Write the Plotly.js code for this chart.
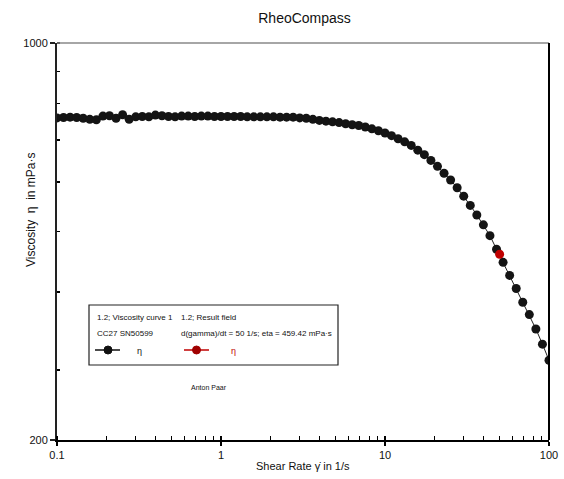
<!DOCTYPE html>
<html>
<head>
<meta charset="utf-8">
<script src="https://cdn.plot.ly/plotly-3.0.1.min.js"></script>
<style>html,body{margin:0;padding:0;background:#fff;}#chart{width:564px;height:479px;}</style>
</head>
<body>
<div id="chart"></div>
<script>
// Shear rate (1/s)
const shearRate = [0.1, 0.1096, 0.1202, 0.1318, 0.1445, 0.1585, 0.1738, 0.1905, 0.2089, 0.2291,
  0.2512, 0.2754, 0.302, 0.3311, 0.3631, 0.3981, 0.4365, 0.4786, 0.5248, 0.5754,
  0.631, 0.6918, 0.7586, 0.8318, 0.912, 1, 1.096, 1.202, 1.318, 1.445,
  1.585, 1.738, 1.905, 2.089, 2.291, 2.512, 2.754, 3.02, 3.311, 3.631,
  3.981, 4.365, 4.786, 5.248, 5.754, 6.31, 6.918, 7.586, 8.318, 9.12,
  10, 10.96, 12.02, 13.18, 14.45, 15.85, 17.38, 19.05, 20.89, 22.91,
  25.12, 27.54, 30.2, 33.11, 36.31, 39.81, 43.65, 47.86, 52.48, 57.54,
  63.1, 69.18, 75.86, 83.18, 91.2, 100];
// Viscosity (mPa·s)
const viscosity = [759, 760, 761, 760, 758, 755, 754, 764, 765, 758,
  768, 755, 762, 763, 762, 767, 765, 763, 762, 764,
  764, 763, 764, 764, 763, 763, 763, 763, 763, 762,
  762, 762, 762, 762, 761, 761, 761, 759, 758, 755,
  752, 750, 748, 746, 743, 740, 738, 734, 729, 724,
  718, 711, 703, 695, 686, 674, 663, 649, 635, 619,
  604, 587, 569, 550, 531, 512, 492, 468, 446, 425,
  405, 385, 368, 349, 330, 311];
// Result field point
const resultRate = [50];
const resultEta = [459.42];

const xTickVals = [0.1, 1, 10, 100];
const xTickText = ["0.1", "1", "10", "100"];
const xMinorVals = [0.1,0.2,0.3,0.4,0.5,0.6,0.7,0.8,0.9,1,2,3,4,5,6,7,8,9,10,20,30,40,50,60,70,80,90,100];
const yTickVals = [231.9, 1000];
const yTickText = ["200", "1000"];
const yMinorVals = [300, 400, 500, 600, 700, 800, 900, 1000];

const FONT = "'Liberation Sans', Arial, sans-serif";

const traces = [
  {x: shearRate, y: viscosity, type: 'scatter', mode: 'lines+markers',
   line: {color: '#222', width: 1}, marker: {color: '#141414', size: 9}, hoverinfo: 'skip', showlegend: false},
  {x: resultRate, y: resultEta, type: 'scatter', mode: 'markers',
   marker: {color: '#c00000', size: 9}, hoverinfo: 'skip', showlegend: false}
];

// plot area in px: left 57, right 549, top 43, bottom 440
const L = 57, R = 549, T = 43, B = 440;
const px = v => (v - L) / (R - L);
const py = v => (B - v) / (B - T);

const legendBox = {x0: 89, x1: 338, y0: 305, y1: 365};

const layout = {
  width: 564, height: 479,
  margin: {l: L, r: 564 - R, t: T, b: 479 - B},
  paper_bgcolor: '#fff', plot_bgcolor: '#fff',
  font: {family: FONT, color: '#111', size: 11},
  title: {text: 'RheoCompass', font: {family: FONT, size: 14, color: '#111'},
          x: 0.54, xanchor: 'center', y: 1 - 18 / 479, yanchor: 'middle', xref: 'container', yref: 'container'},
  xaxis: {type: 'log', range: [-1, 2], showgrid: false, zeroline: false,
          showline: true, linecolor: '#000', linewidth: 1.5, mirror: false,
          tickmode: 'array', tickvals: xTickVals, ticktext: xTickText,
          ticks: 'outside', ticklen: 4, tickcolor: '#000', tickwidth: 1.5,
          tickfont: {family: FONT, size: 11, color: '#111'},
          minor: {tickmode: 'array', tickvals: xMinorVals, ticks: 'inside', ticklen: 4, tickcolor: '#000', tickwidth: 1.2, showgrid: false}},
  yaxis: {type: 'log', range: [Math.log10(231.9), 3], showgrid: false, zeroline: false,
          showline: true, linecolor: '#222', linewidth: 2, mirror: false,
          tickmode: 'array', tickvals: yTickVals, ticktext: yTickText,
          ticks: 'outside', ticklen: 5, tickcolor: '#222', tickwidth: 1.5,
          tickfont: {family: FONT, size: 11, color: '#111'},
          minor: {tickmode: 'array', tickvals: yMinorVals, ticks: 'inside', ticklen: 3, tickcolor: '#000', tickwidth: 1.5, showgrid: false}},
  shapes: [
    {type: 'line', xref: 'paper', yref: 'paper', x0: 0, x1: 1, y0: 1, y1: 1, line: {color: '#888', width: 1.5}},
    {type: 'line', xref: 'paper', yref: 'paper', x0: 1, x1: 1, y0: 0, y1: 1, line: {color: '#000', width: 2}},
    {type: 'rect', xref: 'paper', yref: 'paper', x0: px(legendBox.x0), x1: px(legendBox.x1), y0: py(legendBox.y1), y1: py(legendBox.y0),
     line: {color: '#222', width: 1.2}, fillcolor: 'rgba(0,0,0,0)'},
    {type: 'line', xref: 'paper', yref: 'paper', x0: px(95), x1: px(120), y0: py(350), y1: py(350), line: {color: '#111', width: 1.5}},
    {type: 'circle', xref: 'paper', yref: 'paper', x0: px(104), x1: px(112), y0: py(354), y1: py(346), fillcolor: '#111', line: {color: '#111', width: 1}},
    {type: 'line', xref: 'paper', yref: 'paper', x0: px(184), x1: px(209), y0: py(350), y1: py(350), line: {color: '#c00000', width: 1.5}},
    {type: 'circle', xref: 'paper', yref: 'paper', x0: px(192.5), x1: px(200.5), y0: py(354), y1: py(346), fillcolor: '#a00000', line: {color: '#a00000', width: 1}}
  ],
  annotations: [
    {text: 'Shear Rate γ̇ in 1/s', xref: 'paper', yref: 'paper', x: 0.5, y: py(466), xanchor: 'center', yanchor: 'middle', showarrow: false, font: {family: FONT, size: 11, color: '#111'}},
    {text: 'Viscosity\u00a0\u00a0η\u00a0\u00a0in mPa·s', xref: 'paper', yref: 'paper', x: px(31), y: py(210), xanchor: 'center', yanchor: 'middle', textangle: -90, showarrow: false, font: {family: FONT, size: 12, color: '#111'}},
    {text: '1.2; Viscosity curve 1', xref: 'paper', yref: 'paper', x: px(95), y: py(317), xanchor: 'left', yanchor: 'middle', showarrow: false, font: {family: FONT, size: 8, color: '#111'}},
    {text: 'CC27 SN50599', xref: 'paper', yref: 'paper', x: px(95), y: py(333), xanchor: 'left', yanchor: 'middle', showarrow: false, font: {family: FONT, size: 8, color: '#111'}},
    {text: 'η', xref: 'paper', yref: 'paper', x: px(135), y: py(351), xanchor: 'left', yanchor: 'middle', showarrow: false, font: {family: FONT, size: 9, color: '#111'}},
    {text: '1.2; Result field', xref: 'paper', yref: 'paper', x: px(179), y: py(317), xanchor: 'left', yanchor: 'middle', showarrow: false, font: {family: FONT, size: 8, color: '#111'}},
    {text: 'd(gamma)/dt = 50 1/s; eta = 459.42 mPa·s', xref: 'paper', yref: 'paper', x: px(179), y: py(333), xanchor: 'left', yanchor: 'middle', showarrow: false, font: {family: FONT, size: 8, color: '#111'}},
    {text: 'η', xref: 'paper', yref: 'paper', x: px(229), y: py(351), xanchor: 'left', yanchor: 'middle', showarrow: false, font: {family: FONT, size: 9, color: '#c00000'}},
    {text: 'Anton Paar', xref: 'paper', yref: 'paper', x: px(209), y: py(387), xanchor: 'center', yanchor: 'middle', showarrow: false, font: {family: FONT, size: 7, color: '#111'}}
  ]
};

Plotly.newPlot('chart', traces, layout, {staticPlot: true, displayModeBar: false});
</script>
</body>
</html>
